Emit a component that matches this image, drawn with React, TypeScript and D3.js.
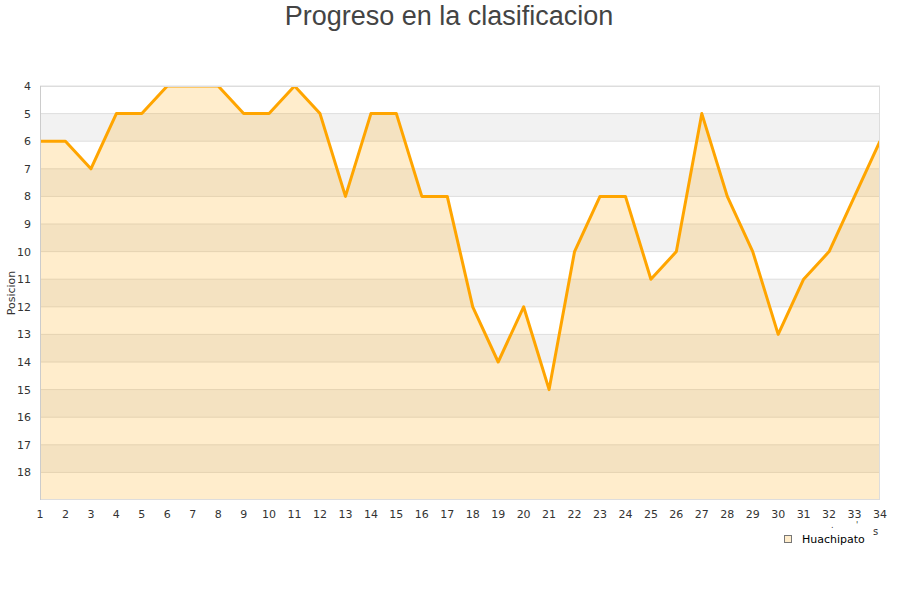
import React from "react";
import * as d3 from "d3";

// jornadas and posicion
const rounds: number[] = d3.range(1, 35);
const positions: number[] = [6, 6, 7, 5, 5, 4, 4, 4, 5, 5, 4, 5, 8, 5, 5, 8, 8, 12, 14, 12, 15, 10, 8, 8, 11, 10, 5, 8, 10, 13, 11, 10, 8, 6];
const yTicks: number[] = d3.range(4, 19);
const seriesName = "Huachipato";

const W = 900, H = 600;
const m = { top: 86, right: 20, bottom: 100, left: 40 };

export default function App() {
  const x = d3.scaleLinear().domain([1, 34]).range([m.left, W - m.right]);
  const y = d3.scaleLinear().domain([4, 19]).range([m.top, H - m.bottom]);

  const data = rounds.map((r, i) => ({ r, p: positions[i] }));
  const area = d3.area<{ r: number; p: number }>()
    .x(d => x(d.r)).y0(y(19)).y1(d => y(d.p));
  const line = d3.line<{ r: number; p: number }>()
    .x(d => x(d.r)).y(d => y(d.p));

  // grey bands 5-6, 7-8, ...
  const bands = d3.range(5, 19, 2);

  return (
    <svg width={W} height={H} style={{ position: "absolute", left: 0, top: 0, fontFamily: "DejaVu Sans" }}>
      <rect width={W} height={H} fill="#fff" />
      <text x={449} y={25} textAnchor="middle" fontFamily="Liberation Sans" fontSize={27} fill="#444">
        Progreso en la clasificacion
      </text>
      <defs>
        <clipPath id="plot">
          <rect x={m.left} y={m.top} width={W - m.left - m.right} height={H - m.top - m.bottom} />
        </clipPath>
      </defs>
      {bands.map(b => (
        <rect key={b} x={m.left} y={y(b)} width={W - m.left - m.right} height={y(b + 1) - y(b)} fill="#f2f2f2" />
      ))}
      {yTicks.map(t => (
        <line key={t} x1={m.left} x2={W - m.right} y1={y(t)} y2={y(t)} stroke="#dedede" strokeWidth={1} />
      ))}
      <g clipPath="url(#plot)">
        <path d={area(data) || ""} fill="#ffa500" fillOpacity={0.2} />
        <path d={line(data) || ""} fill="none" stroke="#ffa500" strokeWidth={3} strokeLinejoin="round" />
      </g>
      <rect x={m.left + 0.5} y={m.top + 0.5} width={W - m.left - m.right - 1} height={H - m.top - m.bottom - 1}
        fill="none" stroke="#ddd" strokeWidth={1} />
      <line x1={m.left + 0.5} x2={m.left + 0.5} y1={m.top} y2={H - m.bottom} stroke="#ccc" />
      {yTicks.map(t => (
        <text key={t} x={31} y={y(t) + 4} textAnchor="end" fontSize={11} fill="#333">{t}</text>
      ))}
      {rounds.map(r => (
        <text key={r} x={x(r)} y={518} textAnchor="middle" fontSize={11} fill="#333">{r}</text>
      ))}
      <text transform="translate(15,293) rotate(-90)" textAnchor="middle" fontSize={11} fill="#333">Posicion</text>
      <text x={831} y={528} fontSize={8} fill="#333">.</text>
      <text x={856} y={528} fontSize={8} fill="#333">'</text>
      <text x={873} y={535} fontSize={10} fill="#333">s</text>
      <rect x={784.5} y={535.5} width={7} height={7} fill="#ffedcc" stroke="#777" />
      <text x={802} y={543} fontSize={11} fill="#000">{seriesName}</text>
    </svg>
  );
}
